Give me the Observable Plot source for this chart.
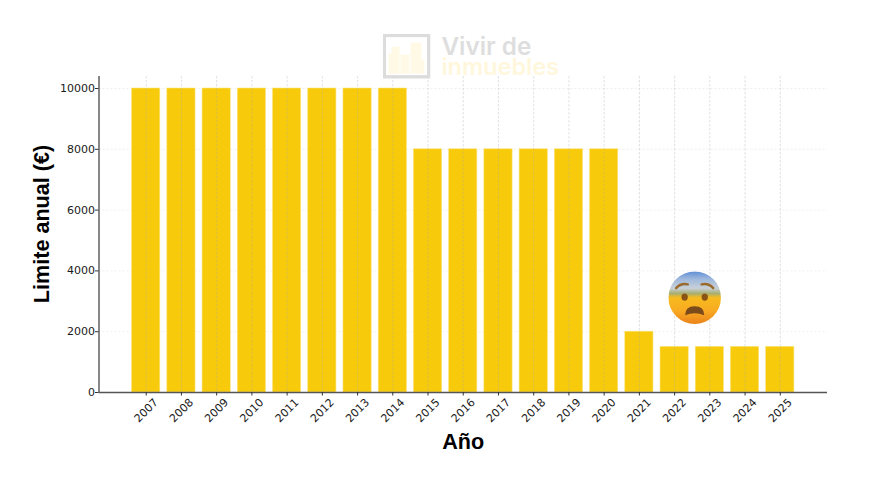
<!DOCTYPE html>
<html><head><meta charset="utf-8">
<script src="https://cdn.jsdelivr.net/npm/d3@7"></script>
<script src="https://cdn.jsdelivr.net/npm/@observablehq/plot@0.6"></script>
<style>html,body{margin:0;padding:0;background:#fff}svg{display:block}</style>
</head><body><div id="chart"></div>
<script>
const years = [2007,2008,2009,2010,2011,2012,2013,2014,2015,2016,2017,2018,2019,2020,2021,2022,2023,2024,2025];
const limits = [10000,10000,10000,10000,10000,10000,10000,10000,8000,8000,8000,8000,8000,8000,2000,1500,1500,1500,1500];
const yTicks = [0,2000,4000,6000,8000,10000];
const rows = years.map((year,i)=>({year,limit:limits[i]}));
const tickFont = "DejaVu Sans";
const labelFont = "Liberation Sans";

const emojiSvg = `<svg xmlns="http://www.w3.org/2000/svg" viewBox="0 0 100 100"><defs><linearGradient id="g" x1="0" y1="0" x2="0" y2="1"><stop offset="0" stop-color="#5f8fd6"/><stop offset=".14" stop-color="#9db7dc"/><stop offset=".32" stop-color="#c8d0d8"/><stop offset=".42" stop-color="#a8ae72"/><stop offset=".5" stop-color="#f6bb1e"/><stop offset=".75" stop-color="#f9aa22"/><stop offset="1" stop-color="#ea831c"/></linearGradient></defs><circle cx="50" cy="50" r="49.5" fill="url(#g)"/><path d="M15 32Q24 22 37 25" fill="none" stroke="#9a6a2c" stroke-width="4.5" stroke-linecap="round"/><path d="M85 32Q76 22 63 25" fill="none" stroke="#9a6a2c" stroke-width="4.5" stroke-linecap="round"/><ellipse cx="31" cy="49" rx="6" ry="7" fill="#8a5417"/><ellipse cx="69" cy="49" rx="6" ry="7" fill="#8a5417"/><path d="M32 83Q32 66 50 66Q68 66 68 83Q50 76 32 83Z" fill="#7a4a1b"/></svg>`;
const logoSvg = `<svg xmlns="http://www.w3.org/2000/svg" viewBox="0 0 48 45"><rect x="1.75" y="1.75" width="44.5" height="41.5" fill="#fff" stroke="#dcdcdc" stroke-width="3.5"/><g fill="#fff9e6"><rect x="6" y="20" width="5" height="20"/><rect x="9" y="13" width="8" height="27"/><rect x="18" y="21" width="9" height="19"/><rect x="28" y="9" width="11" height="31"/><rect x="39" y="26" width="3" height="14"/></g></svg>`;
const uri = s => "data:image/svg+xml;charset=utf-8," + encodeURIComponent(s);

const plot = Plot.plot({
  width:887,height:492,
  marginLeft:98.5,marginRight:60,marginTop:76,marginBottom:100,
  style:{background:"#fff",overflow:"visible"},
  x:{type:"linear",domain:[2005.66,2026.34],axis:null},
  y:{type:"linear",domain:[0,10395],axis:null},
  marks:[
    Plot.ruleY(yTicks.slice(1),{stroke:"#cccccc",strokeWidth:0.7,strokeOpacity:.45,strokeDasharray:"2,2"}),
    Plot.rectY(rows,{x1:d=>d.year-0.4,x2:d=>d.year+0.4,y1:0,y2:"limit",fill:"#f7cb0b",stroke:"#fbe27a",strokeWidth:0.6}),
    Plot.ruleX(years,{stroke:"#aaaaaa",strokeWidth:0.7,strokeOpacity:.5,strokeDasharray:"2.5,1.5"}),
    Plot.ruleY([0],{stroke:"#555555",strokeWidth:1.4}),
    Plot.ruleX([2005.66],{stroke:"#555555",strokeWidth:1.4}),
    Plot.axisX(years,{anchor:"bottom",tickSize:3.5,stroke:"#333",tickFormat:()=>"",label:null}),
    Plot.axisY(yTicks,{anchor:"left",tickSize:3.5,tickPadding:0.5,stroke:"#333",fill:"#1a1a1a",fontSize:11,fontFamily:tickFont,label:null,tickFormat:d=>String(d)}),
    Plot.text(years,{x:d=>d,y:()=>0,text:d=>String(d),rotate:-45,dy:18,fontSize:11,fontFamily:tickFont,fill:"#1a1a1a"}),
    Plot.image([0],{x:()=>2022.57,y:()=>3120,width:53,height:53,src:()=>uri(emojiSvg)}),
    Plot.image([0],{x:()=>2014.39,y:()=>11065,width:48,height:45,src:()=>uri(logoSvg)}),
    Plot.text(["Vivir de"],{x:()=>2015.38,y:()=>11360,textAnchor:"start",fill:"#dedede",fontSize:24.3,fontWeight:600,fontFamily:"Inter"}),
    Plot.text(["inmuebles"],{x:()=>2015.38,y:()=>10680,textAnchor:"start",fill:"#fff7dc",fontSize:23.5,fontWeight:600,fontFamily:"Inter"}),
    Plot.text(["Limite anual (€)"],{frameAnchor:"left",textAnchor:"middle",rotate:-90,dx:-57,dy:-10.5,fontSize:21.6,fontWeight:"bold",fontFamily:labelFont,fill:"#000"}),
    Plot.text(["Año"],{frameAnchor:"bottom",dy:56,fontSize:21.6,fontWeight:"bold",fontFamily:labelFont,fill:"#000"})
  ]
});
document.getElementById("chart").append(plot);
</script></body></html>
